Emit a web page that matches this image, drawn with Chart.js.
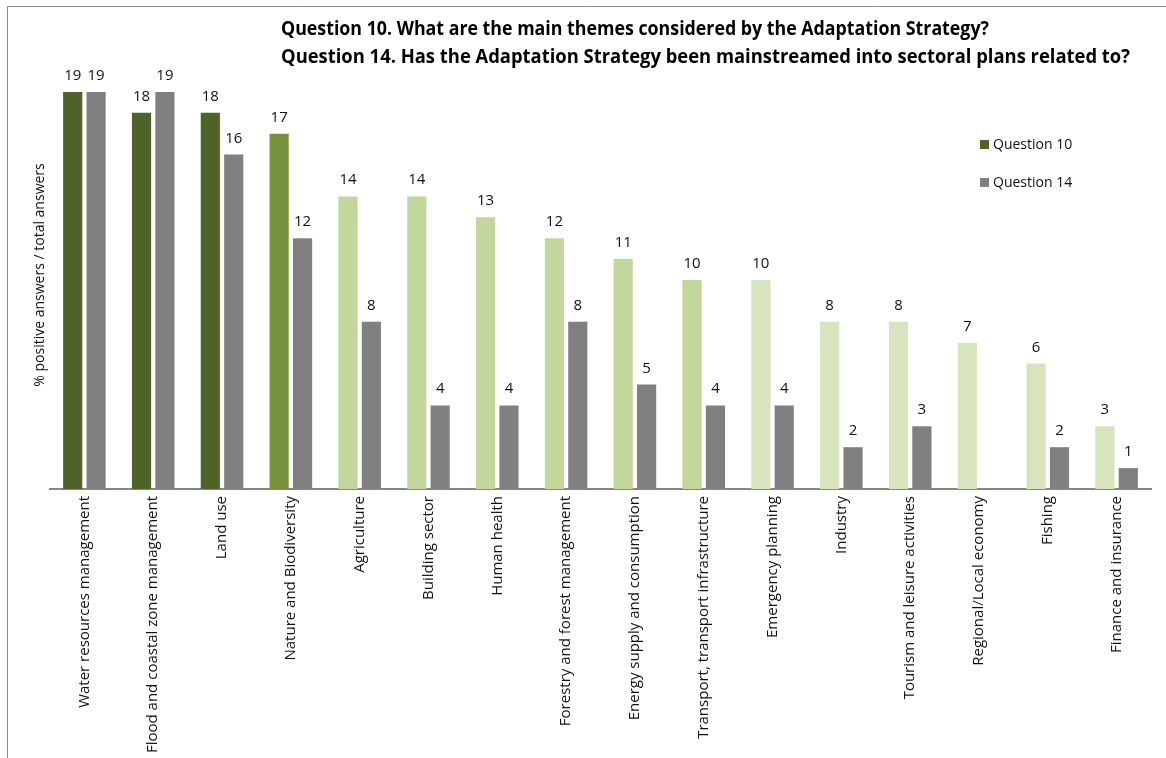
<!DOCTYPE html>
<html>
<head>
<meta charset="utf-8">
<title>Adaptation Strategy themes</title>
<script src="https://cdn.jsdelivr.net/npm/chart.js@4/dist/chart.umd.min.js"></script>
<style>
  html, body { margin: 0; padding: 0; background: #fff; }
  canvas { display: block; }
</style>
</head>
<body>
<canvas id="canvas" width="1166" height="758"></canvas>
<script>
var categories = [
    'Water resources management', 'Flood and coastal zone management', 'Land use',
    'Nature and Biodiversity', 'Agriculture', 'Building sector', 'Human health',
    'Forestry and forest management', 'Energy supply and consumption',
    'Transport, transport infrastructure', 'Emergency planning', 'Industry',
    'Tourism and leisure activities', 'Regional/Local economy', 'Fishing',
    'Finance and insurance'
];
var q10 = [19, 18, 18, 17, 14, 14, 13, 12, 11, 10, 10, 8, 8, 7, 6, 3];
var q14 = [19, 19, 16, 12, 8, 4, 4, 8, 5, 4, 4, 2, 3, null, 2, 1];

// shades of green for question 10, strongest themes darkest
var q10Colors = [
    '#4f6228', '#4f6228', '#4f6228', '#77933c',
    '#c3d69b', '#c3d69b', '#c3d69b', '#c3d69b', '#c3d69b', '#c3d69b',
    '#d7e4bd', '#d7e4bd', '#d7e4bd', '#d7e4bd', '#d7e4bd', '#d7e4bd'
];
var q14Color = '#808080';

var titleLines = [
    'Question 10. What are the main themes considered by the Adaptation Strategy?',
    'Question 14. Has the Adaptation Strategy been mainstreamed into sectoral plans related to?'
];
var yTitle = '% positive answers / total answers';

var FONT = '"Open Sans", "Liberation Sans", sans-serif';
Chart.defaults.font.family = FONT;
Chart.defaults.color = '#111';

// frame, title, y title and legend
var decorPlugin = {
    id: 'decor',
    beforeDraw: function (chart) {
        var ctx = chart.ctx;
        ctx.save();
        ctx.fillStyle = '#fff';
        ctx.fillRect(0, 0, chart.width, chart.height);
        ctx.strokeStyle = '#8c8c8c';
        ctx.lineWidth = 1;
        ctx.beginPath();
        ctx.moveTo(7.5, chart.height);
        ctx.lineTo(7.5, 6.5);
        ctx.lineTo(chart.width, 6.5);
        ctx.stroke();
        ctx.restore();
    },
    afterDraw: function (chart) {
        var ctx = chart.ctx;
        ctx.save();
        ctx.fillStyle = '#000';
        ctx.textBaseline = 'alphabetic';
        ctx.textAlign = 'left';
        ctx.font = 'bold 19px ' + FONT;
        ctx.fillText(titleLines[0], 281, 35, 708);
        ctx.fillText(titleLines[1], 281, 63, 849);

        // axis title, rotated
        var area = chart.chartArea;
        ctx.save();
        ctx.translate(44, (area.top + area.bottom) / 2 - 5);
        ctx.rotate(-Math.PI / 2);
        ctx.textAlign = 'center';
        ctx.font = '14px ' + FONT;
        ctx.fillStyle = '#111';
        ctx.fillText(yTitle, 0, 0);
        ctx.restore();

        // legend
        ctx.font = '14px ' + FONT;
        chart.data.datasets.forEach(function (ds, k) {
            var y = 140 + k * 38;
            var c = Array.isArray(ds.backgroundColor) ? ds.backgroundColor[0] : ds.backgroundColor;
            ctx.fillStyle = c;
            ctx.fillRect(980, y, 9, 9);
            ctx.fillStyle = '#111';
            ctx.fillText(ds.label, 993, y + 9);
        });
        ctx.restore();
    }
};

// value above each bar
var valuePlugin = {
    id: 'values',
    afterDatasetsDraw: function (chart) {
        var ctx = chart.ctx;
        ctx.save();
        ctx.font = '15px ' + FONT;
        ctx.fillStyle = '#111';
        ctx.textAlign = 'center';
        ctx.textBaseline = 'alphabetic';
        chart.data.datasets.forEach(function (ds, i) {
            chart.getDatasetMeta(i).data.forEach(function (bar, j) {
                var v = ds.data[j];
                if (v === null || v === undefined) return;
                ctx.fillText(v, bar.x, bar.y - 12);
            });
        });
        ctx.restore();
    }
};

var ctx = document.getElementById('canvas');
var myChart = new Chart(ctx, {
    type: 'bar',
    data: {
        labels: categories,
        datasets: [
            {
                label: 'Question 10',
                data: q10,
                backgroundColor: q10Colors,
                categoryPercentage: 0.68,
                barPercentage: 0.82
            },
            {
                label: 'Question 14',
                data: q14,
                backgroundColor: q14Color,
                categoryPercentage: 0.68,
                barPercentage: 0.82
            }
        ]
    },
    options: {
        responsive: false,
        animation: false,
        layout: {
            padding: { top: 71, left: 50, right: 15, bottom: 0 }
        },
        plugins: {
            legend: { display: false },
            title: { display: false },
            tooltip: { enabled: false }
        },
        scales: {
            x: {
                grid: { display: false, drawTicks: false },
                border: { display: true, color: '#878787', width: 2 },
                ticks: {
                    autoSkip: false,
                    minRotation: 90,
                    maxRotation: 90,
                    padding: 7,
                    color: '#111',
                    font: { size: 15 }
                },
                afterFit: function (scale) {
                    scale.height = 269;
                }
            },
            y: {
                display: false,
                min: 0,
                max: 20
            }
        }
    },
    plugins: [decorPlugin, valuePlugin]
});
</script>
</body>
</html>
